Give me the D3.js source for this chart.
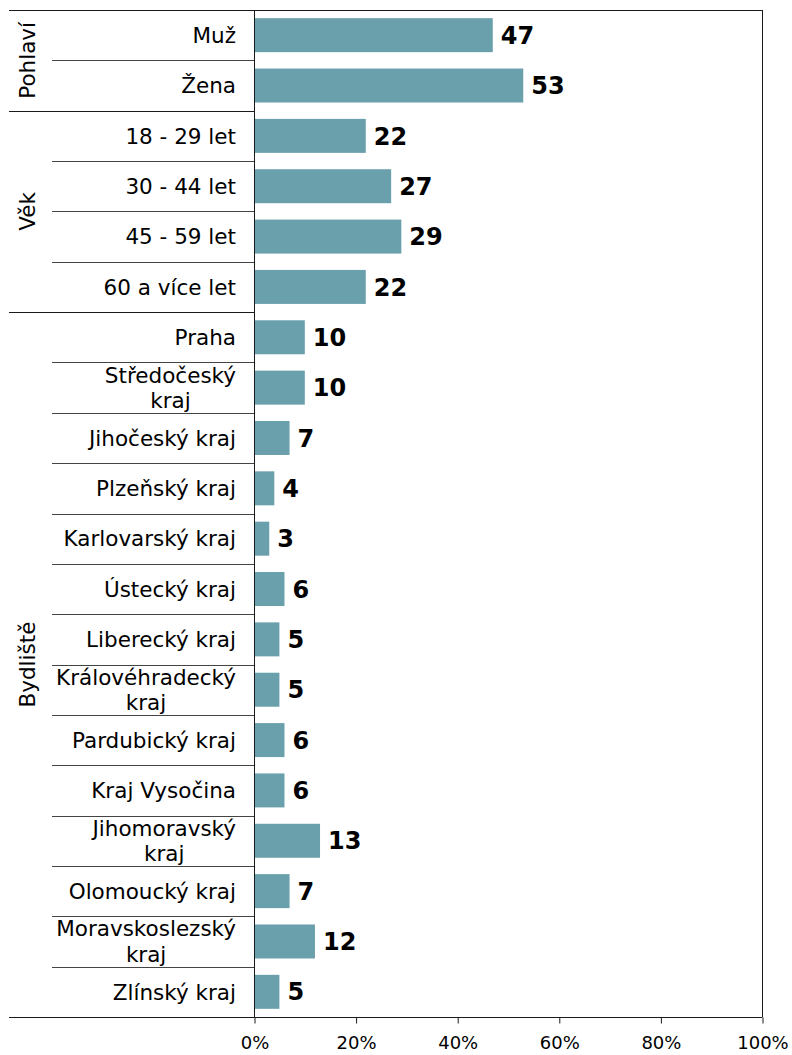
<!DOCTYPE html>
<html>
<head>
<meta charset="utf-8">
<script src="https://cdn.jsdelivr.net/npm/d3@7"></script>
<style>
  html, body { margin: 0; padding: 0; background: #fff; }
  svg { display: block; }
  text { font-family: "DejaVu Sans", Verdana, sans-serif; fill: #000; }
</style>
</head>
<body>
<svg id="chart" width="792" height="1055"></svg>
<script>
// Respondent structure by sex, age and region (%)
const categories = [
  "Muž", "Žena",
  "18 - 29 let", "30 - 44 let", "45 - 59 let", "60 a více let",
  "Praha", "Středočeský kraj", "Jihočeský kraj", "Plzeňský kraj",
  "Karlovarský kraj", "Ústecký kraj", "Liberecký kraj",
  "Královéhradecký kraj", "Pardubický kraj", "Kraj Vysočina",
  "Jihomoravský kraj", "Olomoucký kraj", "Moravskoslezský kraj",
  "Zlínský kraj"
];
const values = [47, 53, 22, 27, 29, 22, 10, 10, 7, 4, 3, 6, 5, 5, 6, 6, 13, 7, 12, 5];
const groupNames = ["Pohlaví", "Věk", "Bydliště"];
const groupSizes = [2, 4, 14];
const xTicks = [0, 20, 40, 60, 80, 100];

const svg = d3.select("#chart");
const plotLeft = 254, plotRight = 762, plotTop = 10, plotBottom = 1017;
const frameLeft = 9, innerLeft = 52;
const barColor = "#6a9fac";
const lineColor = "#1a1a1a";

const x = d3.scaleLinear().domain([0, 100]).range([plotLeft, plotRight]);
const y = d3.scaleBand()
  .domain(d3.range(categories.length))
  .range([plotTop, plotBottom])
  .paddingInner(0.325)
  .paddingOuter(0.1625);
const step = y.step();

// bars
svg.append("g").selectAll("rect")
  .data(values)
  .join("rect")
  .attr("x", x(0))
  .attr("y", (d, i) => y(i))
  .attr("width", d => x(d) - x(0))
  .attr("height", y.bandwidth())
  .attr("fill", barColor);

// value labels
svg.append("g").selectAll("text")
  .data(values)
  .join("text")
  .attr("x", d => x(d) + 8)
  .attr("y", (d, i) => y(i) + y.bandwidth() / 2)
  .attr("dy", "0.36em")
  .attr("font-size", "24px")
  .attr("font-weight", "bold")
  .text(d => d);

// group boundaries
const groupStarts = [];
let acc = 0;
groupSizes.forEach(s => { groupStarts.push(acc); acc += s; });

// row separators: short ones within a group, long ones between groups
const lines = svg.append("g").attr("stroke", lineColor).attr("stroke-width", 1).attr("fill", "none");
for (let i = 1; i < categories.length; i++) {
  const yy = Math.round(plotTop + i * step) + 0.5;
  const isGroupEdge = groupStarts.includes(i);
  lines.append("line")
    .attr("x1", isGroupEdge ? frameLeft : innerLeft)
    .attr("x2", plotLeft)
    .attr("y1", yy).attr("y2", yy)
    .attr("stroke", isGroupEdge ? lineColor : "#444");
}

// frame: top, category axis, right edge
lines.append("line").attr("x1", frameLeft).attr("x2", plotRight + 0.5).attr("y1", plotTop + 0.5).attr("y2", plotTop + 0.5);
lines.append("line").attr("x1", plotLeft + 0.5).attr("x2", plotLeft + 0.5).attr("y1", plotTop).attr("y2", plotBottom);
lines.append("line").attr("x1", plotRight + 0.5).attr("x2", plotRight + 0.5).attr("y1", plotTop).attr("y2", plotBottom);

// x axis
const xAxis = d3.axisBottom(x)
  .tickValues(xTicks)
  .tickFormat(d => d + "%")
  .tickSize(6)
  .tickPadding(13);
const gx = svg.append("g")
  .attr("transform", `translate(0.5,${plotBottom + 0.5})`)
  .call(xAxis);
gx.select(".domain").remove();
gx.selectAll(".tick line").attr("stroke", lineColor);
gx.selectAll(".tick text")
  .attr("font-family", "DejaVu Sans, Verdana, sans-serif")
  .attr("font-size", "18px")
  .attr("fill", "#000");
svg.append("line")
  .attr("x1", frameLeft).attr("x2", plotRight + 0.5)
  .attr("y1", plotBottom + 0.5).attr("y2", plotBottom + 0.5)
  .attr("stroke", lineColor);

// category labels, wrapped onto two centred lines when too long
const labelX = 236;
const labelSize = 21.5;
const maxLabelWidth = 177;
const labels = svg.append("g").attr("font-size", labelSize + "px");
categories.forEach((name, i) => {
  const cy = y(i) + y.bandwidth() / 2;
  const t = labels.append("text")
    .attr("x", labelX).attr("y", cy).attr("dy", "0.36em")
    .attr("text-anchor", "end")
    .text(name);
  if (t.node().getComputedTextLength() > maxLabelWidth) {
    const cut = name.lastIndexOf(" ");
    const parts = [name.slice(0, cut), name.slice(cut + 1)];
    t.text(parts[0]);
    const blockW = t.node().getComputedTextLength();
    t.remove();
    const lh = 25.5;
    const centerX = labelX - blockW / 2;
    parts.forEach((p, k) => {
      labels.append("text")
        .attr("x", centerX)
        .attr("y", cy + (k - 0.5) * lh)
        .attr("dy", "0.36em")
        .attr("text-anchor", "middle")
        .text(p);
    });
  }
});

// rotated group labels
const groupLabels = svg.append("g").attr("font-size", labelSize + "px");
groupNames.forEach((g, k) => {
  const y0 = plotTop + groupStarts[k] * step;
  const y1 = plotTop + (groupStarts[k] + groupSizes[k]) * step;
  const cy = (y0 + y1) / 2;
  groupLabels.append("text")
    .attr("transform", `translate(27,${cy}) rotate(-90)`)
    .attr("dy", "0.36em")
    .attr("text-anchor", "middle")
    .text(g);
});
</script>
</body>
</html>
